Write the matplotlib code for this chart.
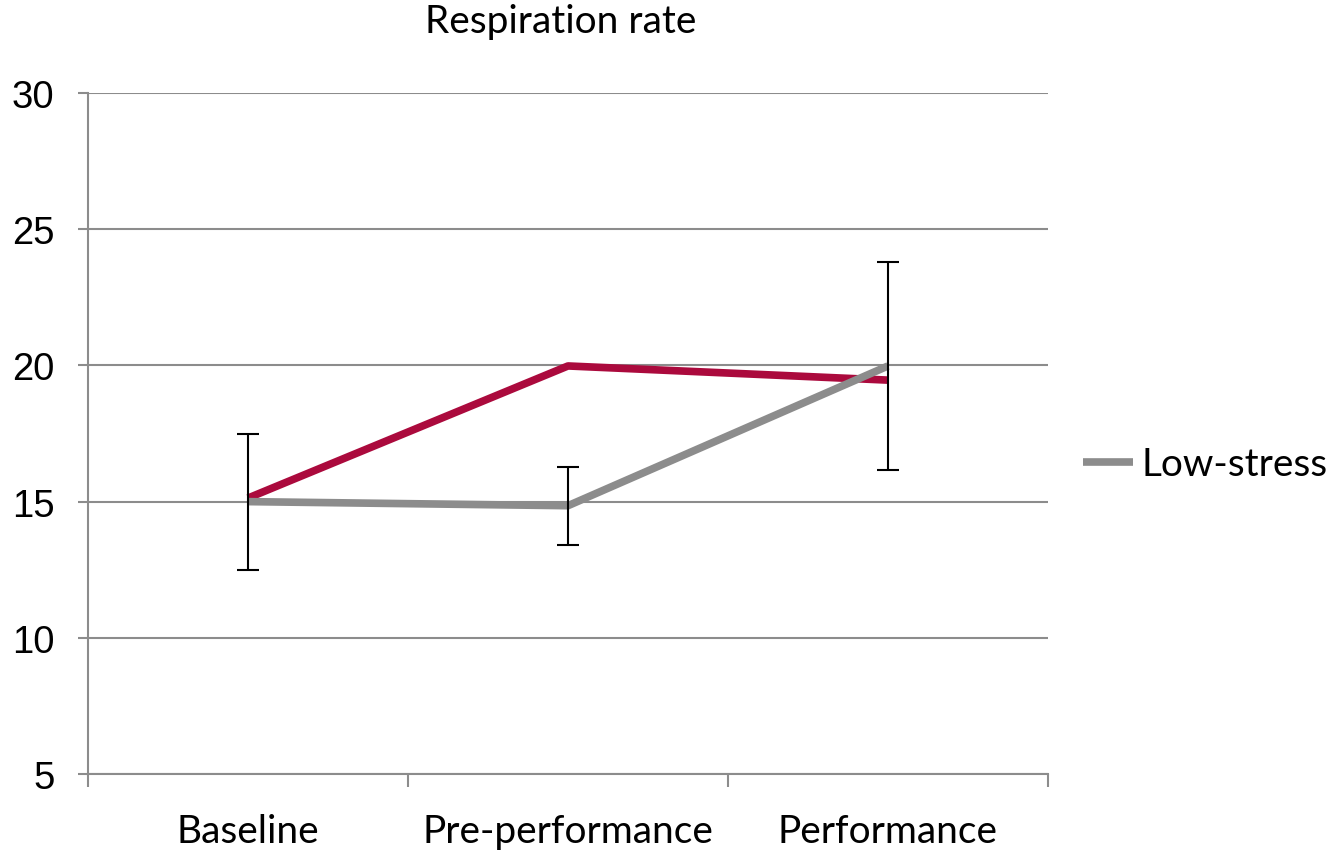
import matplotlib.pyplot as plt
from matplotlib.ticker import FixedLocator

categories = ["Baseline", "Pre-performance", "Performance"]
low_stress = [15.0, 14.85, 19.98]
low_stress_err = [2.5, 1.43, 3.82]
high_stress = [15.13, 19.98, 19.46]

yticks = [5, 10, 15, 20, 25, 30]

grid_col = "#8c8c8c"
red = "#ab0a3d"

fig = plt.figure(figsize=(13.41, 8.53), dpi=100)
ax = fig.add_axes([0.0656, 0.0914, 0.7159, 0.7984])

x = list(range(len(categories)))

ax.plot(x, high_stress, color=red, lw=5.5, solid_capstyle="butt", zorder=3)
ax.plot(x, low_stress, color=grid_col, lw=5.5, solid_capstyle="butt",
        label="Low-stress", zorder=3)
ax.errorbar(x, low_stress, yerr=low_stress_err, fmt="none", ecolor="black",
            elinewidth=1.5, capsize=8, capthick=1.5, zorder=4)

ax.set_xlim(-0.5, 2.5)
ax.set_ylim(5, 30)
ax.set_yticks(yticks)
ax.yaxis.grid(True, color=grid_col, lw=1.5)
ax.set_axisbelow(True)

for s in ["top", "right"]:
    ax.spines[s].set_visible(False)
ax.spines["left"].set_color(grid_col)
ax.spines["left"].set_linewidth(1.5)
ax.spines["bottom"].set_color(grid_col)
ax.spines["bottom"].set_linewidth(1.5)

ax.set_xticks(x)
ax.set_xticklabels(categories, fontfamily="Lato", fontsize=28)
ax.tick_params(axis="x", which="major", length=0, pad=28)
ax.xaxis.set_minor_locator(FixedLocator([-0.5, 0.5, 1.5, 2.5]))
ax.tick_params(axis="x", which="minor", length=9, width=1.5, color=grid_col)

ax.tick_params(axis="y", length=7, width=1.5, color=grid_col, pad=17)
for lbl in ax.get_yticklabels():
    lbl.set_fontfamily("Liberation Sans")
    lbl.set_fontsize(27.5)

fig.text(0.418, 0.974, "Respiration rate", ha="center", va="center",
         fontfamily="Lato", fontsize=28)

leg = ax.legend(loc="center left", bbox_to_anchor=(1.02, 0.455), frameon=False,
                prop={"family": "Lato", "size": 28}, handlelength=1.3,
                handletextpad=0.2, borderaxespad=0.0)

fig.savefig("out.png", dpi=100)
